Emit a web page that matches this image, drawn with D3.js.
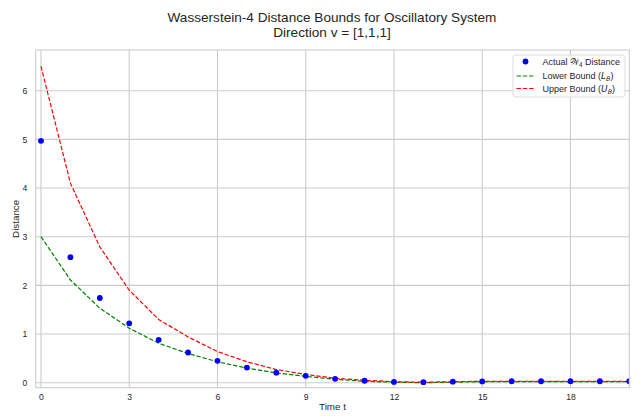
<!DOCTYPE html>
<html><head><meta charset="utf-8">
<script src="https://cdn.jsdelivr.net/npm/d3@7"></script>
<style>
html,body{margin:0;padding:0;background:#fff;}
text{font-family:"Liberation Sans",Arial,sans-serif;fill:#262626;}
</style></head>
<body><svg id="c" width="638" height="416"></svg>
<script>
const times = [0,1,2,3,4,5,6,7,8,9,10,11,12,13,14,15,16,17,18,19,20];
const actual = [4.97,2.58,1.74,1.22,0.88,0.62,0.45,0.31,0.205,0.14,0.08,0.04,0.015,0.01,0.02,0.025,0.03,0.03,0.03,0.03,0.03];
const lower  = [3.0,2.11,1.53,1.12,0.81,0.60,0.43,0.30,0.20,0.13,0.07,0.03,0.01,0.0,0.01,0.02,0.02,0.02,0.02,0.02,0.02];
const upper  = [6.5,4.10,2.79,1.90,1.30,0.94,0.64,0.43,0.27,0.17,0.09,0.05,0.02,0.01,0.02,0.03,0.03,0.03,0.03,0.03,0.03];
const xTicks = [0,3,6,9,12,15,18];
const yTicks = [0,1,2,3,4,5,6];

const svg = d3.select("#c");
const L = 35.7, R = 629.3, T = 50, B = 387.7;
const x = d3.scaleLinear().domain([-0.18, 20]).range([L, R]);
const y = d3.scaleLinear().domain([-0.103, 6.836]).range([B, T]);
const grid = "#cccccc";

// grid
const g = svg.append("g");
g.selectAll(".gx").data(xTicks).join("line")
  .attr("x1", d => x(d)).attr("x2", d => x(d)).attr("y1", T).attr("y2", B)
  .attr("stroke", grid).attr("stroke-width", 1.1);
g.selectAll(".gy").data(yTicks).join("line")
  .attr("y1", d => y(d)).attr("y2", d => y(d)).attr("x1", L).attr("x2", R)
  .attr("stroke", grid).attr("stroke-width", 1.1);

// axes via d3 (labels only)
const xAxis = d3.axisBottom(x).tickValues(xTicks).tickSize(0).tickPadding(6).tickFormat(d3.format("d"));
const yAxis = d3.axisLeft(y).tickValues(yTicks).tickSize(0).tickPadding(8.5).tickFormat(d3.format("d"));
const ax = svg.append("g").attr("transform", `translate(0,${B})`).call(xAxis);
const ay = svg.append("g").attr("transform", `translate(${L},0)`).call(yAxis);
[ax, ay].forEach(a => {
  a.select(".domain").remove();
  a.selectAll("text").style("font-family", '"Liberation Sans",Arial,sans-serif').style("font-size", "8.6px").attr("fill", "#333");
});

// clip
svg.append("clipPath").attr("id", "clip").append("rect")
  .attr("x", L).attr("y", T).attr("width", R - L).attr("height", B - T);
const plot = svg.append("g").attr("clip-path", "url(#clip)");

const line = d3.line().x((d, i) => x(times[i])).y(d => y(d));
plot.append("path").datum(lower).attr("d", line).attr("fill", "none")
  .attr("stroke", "#008000").attr("stroke-width", 1.2).attr("stroke-dasharray", "4.4,1.9");
plot.append("path").datum(upper).attr("d", line).attr("fill", "none")
  .attr("stroke", "#ff0000").attr("stroke-width", 1.2).attr("stroke-dasharray", "4.4,1.9");
plot.selectAll(".pt").data(actual).join("circle")
  .attr("cx", (d, i) => x(times[i])).attr("cy", d => y(d)).attr("r", 2.9)
  .attr("fill", "#0000ff");

// spines
svg.append("rect").attr("x", L).attr("y", T).attr("width", R - L).attr("height", B - T)
  .attr("fill", "none").attr("stroke", grid).attr("stroke-width", 1.1);

// titles
svg.append("text").attr("x", 332).attr("y", 21.7).attr("text-anchor", "middle")
  .style("font-size", "13.6px").text("Wasserstein-4 Distance Bounds for Oscillatory System");
svg.append("text").attr("x", 332).attr("y", 36.7).attr("text-anchor", "middle")
  .style("font-size", "13.6px").text("Direction v = [1,1,1]");
svg.append("text").attr("x", (L + R) / 2).attr("y", 410.3).attr("text-anchor", "middle")
  .style("font-size", "9.8px").text("Time t");
svg.append("text").attr("transform", `translate(18.5,${(T + B) / 2}) rotate(-90)`).attr("text-anchor", "middle")
  .style("font-size", "9.8px").text("Distance");

// legend
const lg = svg.append("g");
lg.append("rect").attr("x", 513).attr("y", 55).attr("width", 112).attr("height", 42).attr("rx", 2.5)
  .attr("fill", "rgba(255,255,255,0.85)").attr("stroke", "#d6d6d6").attr("stroke-width", 0.9);
lg.append("circle").attr("cx", 525.5).attr("cy", 61.5).attr("r", 2.9).attr("fill", "#0000ff");
lg.append("line").attr("x1", 516.5).attr("x2", 534).attr("y1", 76).attr("y2", 76)
  .attr("stroke", "#008000").attr("stroke-width", 1.2).attr("stroke-dasharray", "4.4,1.9");
lg.append("line").attr("x1", 516.5).attr("x2", 534).attr("y1", 88.5).attr("y2", 88.5)
  .attr("stroke", "#ff0000").attr("stroke-width", 1.2).attr("stroke-dasharray", "4.4,1.9");
const fs = "9px", fsub = "6.3px";
const t1 = lg.append("text").attr("x", 542.5).attr("y", 64.8).style("font-size", fs);
t1.append("tspan").text("Actual ");
t1.append("tspan").style("font-family", '"DejaVu Sans",sans-serif').text("𝒲");
t1.append("tspan").attr("dy", 2).style("font-size", fsub).text("4");
t1.append("tspan").attr("dy", -2).text(" Distance");
const t2 = lg.append("text").attr("x", 542.5).attr("y", 79.3).style("font-size", fs);
t2.append("tspan").text("Lower Bound (");
t2.append("tspan").style("font-style", "italic").style("font-family", '"DejaVu Sans",sans-serif').text("L");
t2.append("tspan").attr("dy", 2).style("font-size", fsub).style("font-style", "italic").style("font-family", '"DejaVu Sans",sans-serif').text("B");
t2.append("tspan").attr("dy", -2).text(")");
const t3 = lg.append("text").attr("x", 542.5).attr("y", 91.8).style("font-size", fs);
t3.append("tspan").text("Upper Bound (");
t3.append("tspan").style("font-style", "italic").style("font-family", '"DejaVu Sans",sans-serif').text("U");
t3.append("tspan").attr("dy", 2).style("font-size", fsub).style("font-style", "italic").style("font-family", '"DejaVu Sans",sans-serif').text("B");
t3.append("tspan").attr("dy", -2).text(")");
</script></body></html>
